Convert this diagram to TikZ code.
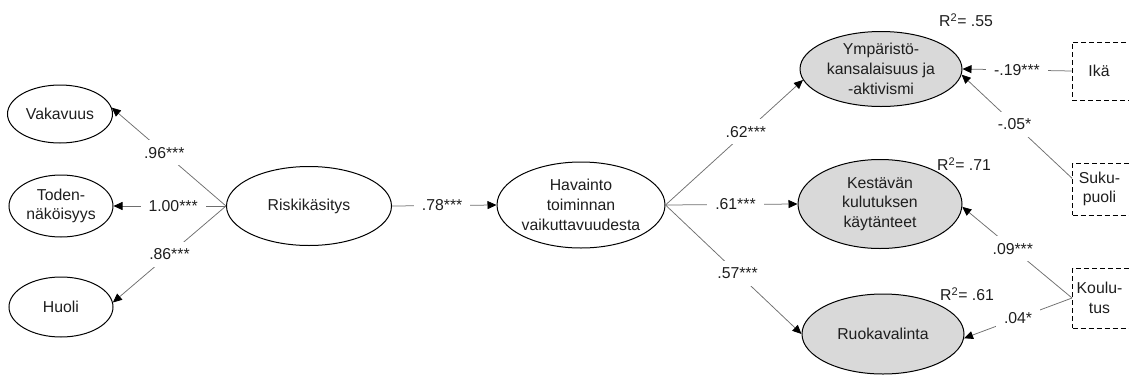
\documentclass[tikz,border=0pt]{standalone}
\usepackage{fontspec}
\setmainfont{Liberation Sans}
\usetikzlibrary{shapes.geometric,arrows.meta}
\definecolor{latfill}{HTML}{D9D9D9}
\definecolor{linegray}{HTML}{6E6E6E}
\definecolor{txt}{HTML}{1E1E1E}
\begin{document}
\begin{tikzpicture}[x=1pt,y=-1pt,
  font=\fontsize{15.8}{19.8}\selectfont, text=txt,
  lat/.style={ellipse,draw=black,line width=1pt,inner sep=0pt,align=center},
  endo/.style={lat,fill=latfill},
  obs/.style={draw=black,dash pattern=on 5pt off 3pt,line width=0.9pt,inner sep=0pt,align=center},
  conn/.style={draw=linegray,line width=0.75pt,-{Triangle[length=9pt,width=8pt,color=black]}},
  coef/.style={fill=white,inner xsep=8pt,inner ysep=7pt},
  rsq/.style={inner sep=0pt}]
\useasboundingbox (0,0) rectangle (1129,378);

% latent variables
\node[lat,minimum width=105pt,minimum height=58pt] (vak) at (60,114) {Vakavuus};
\node[lat,minimum width=104pt,minimum height=62pt] (tod) at (61,206) {Toden-\\näköisyys};
\node[lat,minimum width=104pt,minimum height=60pt] (huo) at (61,307) {Huoli};
\node[lat,minimum width=165pt,minimum height=79pt] (ris) at (309,206) {Riskikäsitys};
\node[lat,minimum width=168pt,minimum height=86pt] (hav) at (581,205) {Havainto\\toiminnan\\vaikuttavuudesta};
\node[endo,minimum width=162pt,minimum height=75pt] (ymp) at (881,69) {Ympäristö-\\kansalaisuus ja\\-aktivismi};
\node[endo,minimum width=164pt,minimum height=89pt] (kes) at (880,204) {Kestävän\\kulutuksen\\käytänteet};
\node[endo,minimum width=162pt,minimum height=80pt] (ruo) at (883,334) {Ruokavalinta};

% observed covariates
\node[obs,minimum width=58pt,minimum height=58pt,text width=56pt] (ika) at (1101,71) {\hspace*{-4pt}Ikä};
\node[obs,minimum width=58pt,minimum height=52pt,text width=56pt] (suk) at (1101.5,189) {\hspace*{-4pt}Suku-\\\hspace*{-4pt}puoli};
\node[obs,minimum width=58pt,minimum height=60pt,text width=56pt] (kou) at (1101.5,298) {\hspace*{-4pt}Koulu-\\\hspace*{-4pt}tus};

% R squared
\node[rsq] (r1) at (966,20) {R\textsuperscript{2}= .55};
\node[rsq] (r2) at (964,164) {R\textsuperscript{2}= .71};
\node[rsq] (r3) at (967,294) {R\textsuperscript{2}= .61};

% measurement paths
\draw[conn] (ris.west) -- node[coef,pos=0.54] {.96***} (vak.7);
\draw[conn] (ris.west) -- node[coef,pos=0.47] {1.00***} (tod.east);
\draw[conn] (ris.west) -- node[coef,pos=0.5] {.86***} (huo.5);

% structural paths
\draw[conn] (ris.east) -- node[coef,pos=0.48] {.78***} (hav.west);
\draw[conn] (hav.east) -- node[coef,pos=0.585] {.62***} (ymp.188);
\draw[conn] (hav.east) -- node[coef,pos=0.53] {.61***} (kes.west);
\draw[conn] (hav.east) -- node[coef,pos=0.53] {.57***} (ruo.west);

% covariate paths
\draw[conn] (ika.west) -- node[coef,pos=0.5] {-.19***} (ymp.east);
\draw[conn] (suk.160) -- node[coef,pos=0.52] {-.05*} (ymp.-4);
\draw[conn] (kou.west) -- node[coef,pos=0.54] {.09***} (kes.-2);
\draw[conn] (kou.west) -- node[coef,pos=0.5] {.04*} (ruo.-3);
\end{tikzpicture}
\end{document}
